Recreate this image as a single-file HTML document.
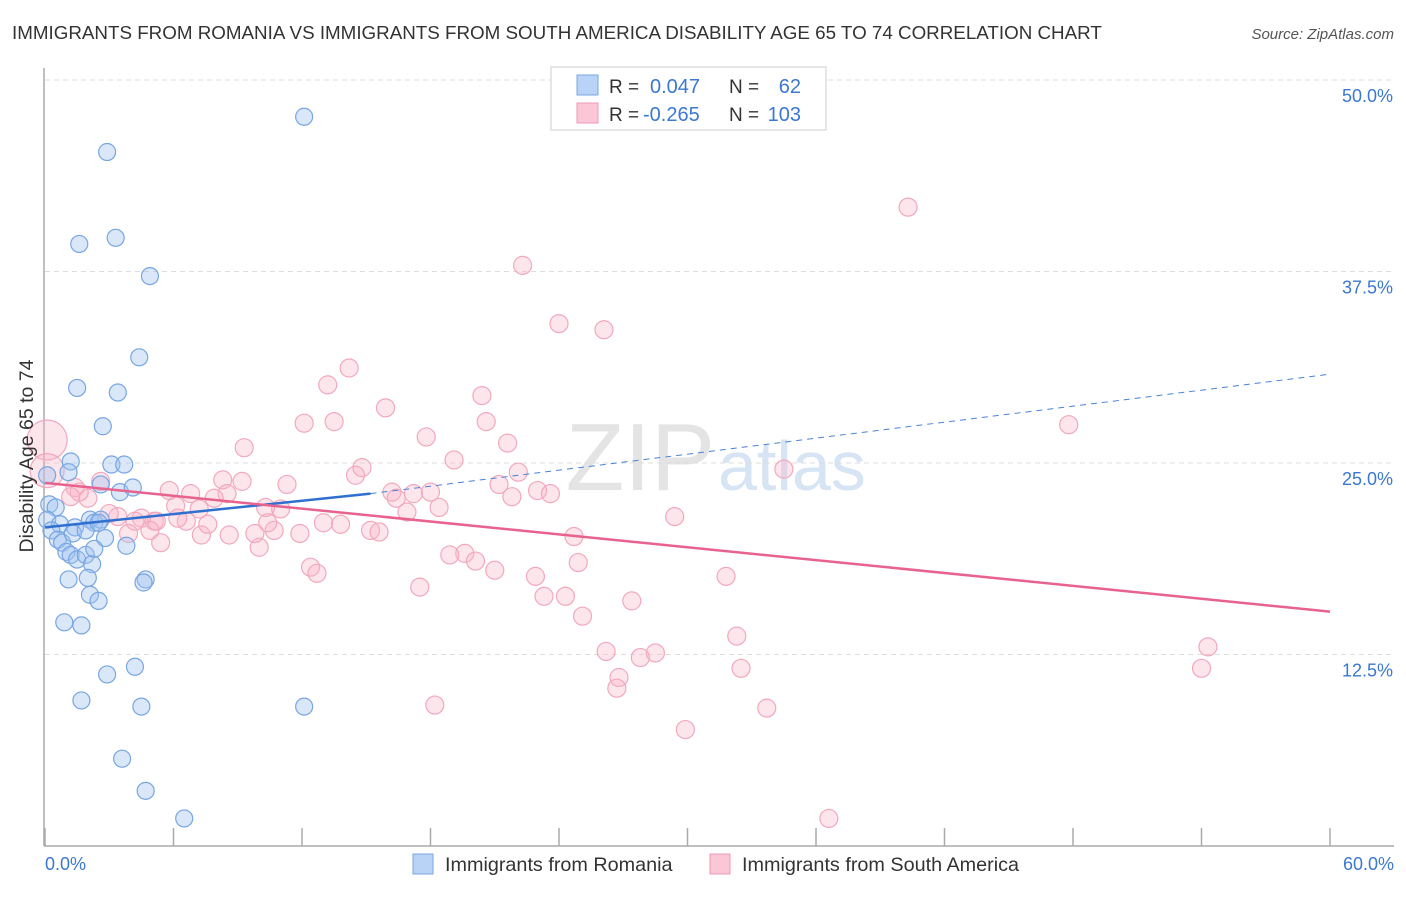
<!DOCTYPE html>
<html><head><meta charset="utf-8">
<style>
body{margin:0;background:#fff;font-family:"Liberation Sans",sans-serif;}
svg text{font-family:"Liberation Sans",sans-serif;}
</style></head>
<body>
<svg id="chart" width="1406" height="892" xmlns="http://www.w3.org/2000/svg">
<text x="12" y="39" font-size="18.8" fill="#333">IMMIGRANTS FROM ROMANIA VS IMMIGRANTS FROM SOUTH AMERICA DISABILITY AGE 65 TO 74 CORRELATION CHART</text>
<text x="1394" y="39" font-size="15" fill="#555" font-style="italic" text-anchor="end">Source: ZipAtlas.com</text>
<text x="715" y="490" font-size="96" fill="#e4e4e4" text-anchor="end" font-family="Liberation Serif">ZIP</text>
<text x="718" y="490" font-size="70" fill="#d6e4f4">atlas</text>
<g id="grid"></g>
<g id="axes"></g>
<g id="pts"></g>
<g id="lines"></g>
<text transform="translate(33,456) rotate(-90)" font-size="19.5" fill="#333" text-anchor="middle">Disability Age 65 to 74</text>
<g>
<rect x="551" y="67" width="275" height="63" fill="#fff" stroke="#ddd" stroke-width="1.5"/>
<rect x="577" y="75" width="21" height="20" fill="#b8d3f5" stroke="#7aa7e0"/>
<rect x="577" y="103" width="21" height="20" fill="#fbc7d6" stroke="#ee9ab4"/>
<text x="609" y="93" font-size="19" fill="#333">R =</text>
<text x="650" y="93" font-size="20" fill="#3b78d0">0.047</text>
<text x="729" y="93" font-size="19" fill="#333">N =</text>
<text x="801" y="93" font-size="20" fill="#3b78d0" text-anchor="end">62</text>
<text x="609" y="121" font-size="19" fill="#333">R =</text>
<text x="643" y="121" font-size="20" fill="#3b78d0">-0.265</text>
<text x="729" y="121" font-size="19" fill="#333">N =</text>
<text x="801" y="121" font-size="20" fill="#3b78d0" text-anchor="end">103</text>
</g>
<g>
<rect x="413" y="854" width="20" height="20" fill="#b8d3f5" stroke="#7aa7e0"/>
<text x="445" y="871" font-size="19.8" fill="#333">Immigrants from Romania</text>
<rect x="710" y="854" width="20" height="20" fill="#fbc7d6" stroke="#ee9ab4"/>
<text x="742" y="871" font-size="19.8" fill="#333">Immigrants from South America</text>
</g>
</svg>
<script>
const yTicks=[12.5,25,37.5,50];
const yTickLabels=["12.5%","25.0%","37.5%","50.0%"];
const blueX=[12.1,2.9,1.6,3.3,4.9,4.4,1.5,3.4,2.7,1.2,1.1,3.1,3.7,2.6,3.5,4.1,0.2,0.5,0.1,0.7,0.3,0.6,0.8,1.4,1.3,2.1,2.3,2.6,1.9,2.8,3.8,1.0,1.2,1.5,1.9,2.2,2.3,2.5,1.1,2.0,4.7,4.6,2.1,2.5,0.9,1.7,2.9,4.2,1.7,4.5,12.1,3.6,4.7,6.5,0.1];
const blueY=[47.6,45.3,39.3,39.7,37.2,31.9,29.9,29.6,27.4,25.1,24.4,24.9,24.9,23.6,23.1,23.4,22.3,22.1,21.3,21.0,20.6,20.0,19.8,20.8,20.4,21.3,21.1,21.3,20.6,20.1,19.6,19.2,19.0,18.7,19.0,18.4,19.4,21.1,17.4,17.5,17.4,17.2,16.4,16.0,14.6,14.4,11.2,11.7,9.5,9.1,9.1,5.7,3.6,1.8,24.2];
const pinkX=[0.1,0.1,14.2,13.2,15.9,12.1,13.5,9.3,17.8,20.4,20.6,21.6,22.3,24.0,26.1,40.3,47.8,19.1,14.5,14.8,16.2,16.4,17.2,18.0,16.9,18.4,21.2,22.1,21.8,23.0,23.6,24.7,24.9,22.9,23.3,24.3,25.1,19.6,18.9,20.1,21.0,17.5,27.4,29.4,31.8,34.5,32.3,32.5,26.2,26.8,26.7,27.8,28.5,18.2,29.9,33.7,36.6,54.3,54.0,12.4,12.7,13.0,13.8,15.2,15.6,11.9,10.7,10.4,10.0,11.0,11.3,10.3,9.2,8.3,8.5,7.9,7.3,7.6,6.6,6.1,6.8,5.8,5.1,5.4,5.2,4.5,4.2,3.4,3.0,2.6,2.0,1.6,1.4,1.2,8.6,9.8,7.2,6.2,4.9,3.9];
const pinkY=[26.5,24.5,31.2,30.1,28.6,27.6,27.7,26.0,26.7,29.4,27.7,26.3,37.9,34.1,33.7,41.7,27.5,25.2,24.2,24.7,23.1,22.7,23.0,23.1,21.8,22.1,23.6,24.4,22.8,23.2,23.0,20.2,18.5,17.6,16.3,16.3,15.0,19.1,19.0,18.6,18.0,16.9,16.0,21.5,17.6,24.6,13.7,11.6,12.7,11.0,10.3,12.3,12.6,9.2,7.6,9.0,1.8,13.0,11.6,18.2,17.8,21.1,21.0,20.6,20.5,20.4,20.6,21.1,19.5,22.0,23.6,22.1,23.8,23.9,23.0,22.7,20.3,21.0,21.2,22.2,23.0,23.2,21.2,19.8,21.2,21.4,21.2,21.5,21.7,23.8,22.7,23.1,23.4,22.8,20.3,20.4,22.0,21.4,20.6,20.4];
const pinkR=[20,17];
const xL=45,xR=1330,yTop=80,yBot=846;
function xs(v){return xL+(v/60)*(xR-xL);}
function ys(v){return yBot-(v/50)*(yBot-yTop);}
const NS="http://www.w3.org/2000/svg";
function mk(t,a,p){const e=document.createElementNS(NS,t);for(const k in a)e.setAttribute(k,a[k]);document.getElementById(p).appendChild(e);return e;}
yTicks.forEach((v,i)=>{
 const l=mk('line',{x1:xL,x2:1394,y1:ys(v),y2:ys(v),stroke:'#ddd','stroke-dasharray':'5,4'},'grid');
 
 
 const t=mk('text',{x:1393,y:ys(v)+22,'font-size':18,fill:'#3b78d0','text-anchor':'end'},'grid');
 t.textContent=yTickLabels[i];
 
 
});
const ax=mk('line',{x1:44,x2:44,y1:68,y2:846,stroke:'#aaa','stroke-width':1.5},'axes');


const bx=mk('line',{x1:44,x2:1394,y1:846,y2:846,stroke:'#aaa','stroke-width':1.5},'axes');


for(let i=0;i<=10;i++){const x=xL+i*(xR-xL)/10;const tk=mk('line',{x1:x,x2:x,y1:828,y2:846,stroke:'#aaa','stroke-width':1.5},'axes');
 
 }
const t0=mk('text',{x:45,y:870,'font-size':18,fill:'#3b78d0'},'axes');t0.textContent='0.0%';


const t1=mk('text',{x:1394,y:870,'font-size':18,fill:'#3b78d0','text-anchor':'end'},'axes');t1.textContent='60.0%';


pinkX.forEach((v,i)=>{const c=mk('circle',{cx:xs(v),cy:ys(pinkY[i]),r:pinkR[i]||9,fill:'rgba(248,180,200,0.35)',stroke:'#f2a8bf','stroke-width':1.2},'pts');
 
 });
blueX.forEach((v,i)=>{const c=mk('circle',{cx:xs(v),cy:ys(blueY[i]),r:8.5,fill:'rgba(160,196,240,0.4)',stroke:'#78a6e2','stroke-width':1.2},'pts');
 
 });
const bs=mk('line',{x1:xs(0),y1:ys(20.8),x2:xs(15.2),y2:ys(23.0),stroke:'#2f6fd0','stroke-width':2.5},'lines');


const bd=mk('line',{x1:xs(15.2),y1:ys(23.0),x2:xs(60),y2:ys(30.8),stroke:'#4a82d6','stroke-width':1,'stroke-dasharray':'6,5'},'lines');


const pl=mk('line',{x1:xs(0),y1:ys(23.7),x2:xs(60),y2:ys(15.3),stroke:'#e8628e','stroke-width':2.5},'lines');


</script>
</body></html>
